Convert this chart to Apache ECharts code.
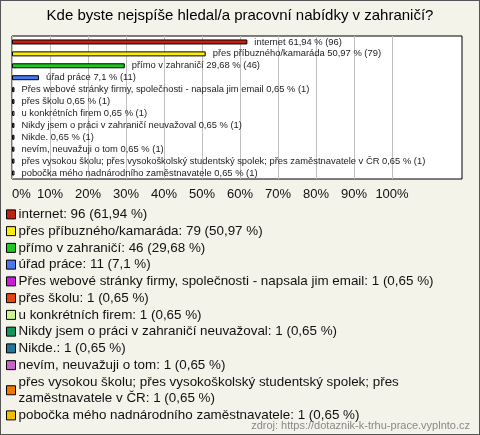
<!DOCTYPE html>
<html><head><meta charset="utf-8">
<script src="https://cdn.jsdelivr.net/npm/echarts@6/dist/echarts.min.js"></script>
<style>html,body{margin:0;padding:0;background:#f4f3ea}#c{width:480px;height:435px;box-sizing:border-box;border:1px solid #555}</style>
</head><body><div id="c"></div>
<script>
const titleText = 'Kde byste nejspíše hledal/a pracovní nabídky v zahraničí?';
const categories = ['internet','přes příbuzného/kamaráda','přímo v zahraničí','úřad práce','Přes webové stránky firmy, společnosti - napsala jim email','přes školu','u konkrétních firem','Nikdy jsem o práci v zahraničí neuvažoval','Nikde.','nevím, neuvažuji o tom','přes vysokou školu; přes vysokoškolský studentský spolek; přes zaměstnavatele v ČR','pobočka mého nadnárodního zaměstnavatele'];
const counts = [96,79,46,11,1,1,1,1,1,1,1,1];
const percents = [61.94,50.97,29.68,7.1,0.65,0.65,0.65,0.65,0.65,0.65,0.65,0.65];
const colors = ['#c4200f','#fcec0a','#1ec81e','#4a78f0','#c81ed8','#e4460c','#c8f58c','#14965a','#1e7896','#c864c8','#f07800','#f0c000'];
const legendNames = categories.map(c => c === 'přes vysokou školu; přes vysokoškolský studentský spolek; přes zaměstnavatele v ČR' ? 'přes vysokou školu; přes vysokoškolský studentský spolek; přes\nzaměstnavatele v ČR' : c);
const xTicks = [0,10,20,30,40,50,60,70,80,90,100];
const sourceText = 'zdroj: https://dotaznik-k-trhu-prace.vyplnto.cz';

const fmt = v => String(v).replace('.', ',');
const chart = echarts.init(document.getElementById('c'));
const series = categories.map((cat, i) => ({
  name: cat,
  type: 'bar',
  stack: 'all',
  barWidth: 5,
  data: categories.map((_, j) => j === i ? percents[i] : '-'),
  itemStyle: { color: colors[i], borderColor: '#000', borderWidth: 1 },
  label: {
    show: true, position: 'right', distance: 7,
    fontFamily: 'Liberation Sans, Arial', fontSize: 9.4, color: '#222',
    formatter: () => `${cat} ${fmt(percents[i])} % (${counts[i]})`
  },
  emphasis: { disabled: true },
  animation: false
}));
chart.setOption({
  backgroundColor: '#f4f3ea',
  animation: false,
  title: { text: titleText, left: 'center', top: 2, textStyle: { fontFamily: 'Liberation Sans, Arial', fontSize: 15, fontWeight: 'normal', color: '#000' } },
  graphic: [
    { type: 'rect', z: -10, shape: { x: 11, y: 35, width: 450, height: 143 }, style: { fill: '#fff', stroke: '#000', lineWidth: 1 } },
    { type: 'text', right: 9, top: 419, style: { text: sourceText, fill: '#888', font: '11px "Liberation Sans", Arial' } }
  ],
  grid: { left: 11, top: 35, width: 380, height: 143, containLabel: false },
  xAxis: {
    type: 'value', min: 0, max: 100, interval: 10,
    axisLine: { show: false }, axisTick: { show: false },
    splitLine: { show: true, lineStyle: { color: '#c0c0c0', width: 1 } },
    axisLabel: { margin: 9, alignMinLabel: 'left', fontFamily: 'Liberation Sans, Arial', fontSize: 13, color: '#111', formatter: v => xTicks.includes(v) ? v + '%' : '' }
  },
  yAxis: { type: 'category', inverse: true, data: categories, show: false },
  legend: {
    orient: 'vertical', left: 5, top: 205, padding: 0, itemGap: 0,
    itemWidth: 9, itemHeight: 9, icon: 'rect',
    selectedMode: false,
    data: categories,
    itemStyle: { borderColor: '#000', borderWidth: 1 },
    textStyle: { fontFamily: 'Liberation Sans, Arial', fontSize: 13.4, lineHeight: 16.75, color: '#111', padding: [0,0,0,-2] },
    formatter: name => { const i = categories.indexOf(name); return `${legendNames[i]}: ${counts[i]} (${fmt(percents[i])} %)`; }
  },
  series
});
</script></body></html>
